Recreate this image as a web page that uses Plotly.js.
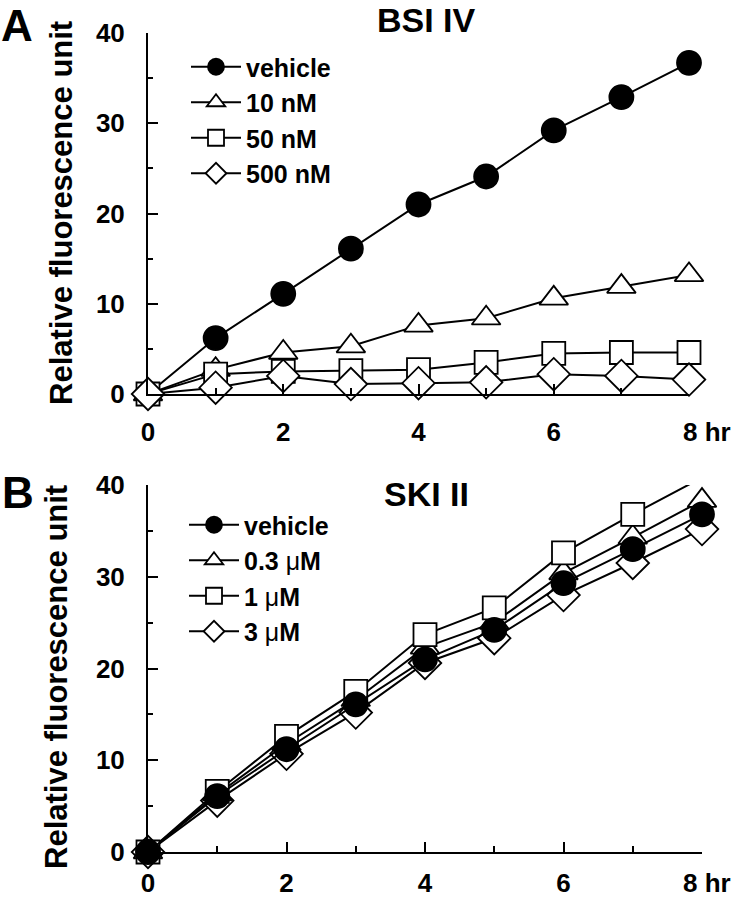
<!DOCTYPE html>
<html>
<head>
<meta charset="utf-8">
<script src="https://cdn.plot.ly/plotly-3.0.1.min.js"></script>
<style>
  html, body { margin: 0; padding: 0; background: #fff; }
  #chart { width: 741px; height: 900px; }
</style>
</head>
<body>
<div id="chart"></div>
<script>
// hours after treatment
var hours = [0, 1, 2, 3, 4, 5, 6, 7, 8];

// panel A: BSI IV
var bsiVehicle = [0, 6.2, 11.1, 16.1, 21.0, 24.1, 29.2, 32.9, 36.7];
var bsi10nM = [0, 2.7, 4.6, 5.3, 7.6, 8.4, 10.6, 11.9, 13.2];
var bsi50nM = [0, 2.2, 2.5, 2.6, 2.7, 3.5, 4.5, 4.6, 4.6];
var bsi500nM = [0, 0.7, 2.0, 1.1, 1.2, 1.3, 2.2, 2.0, 1.6];

// panel B: SKI II
var skiVehicle = [0, 6.1, 11.2, 16.1, 21.0, 24.2, 29.3, 33.0, 36.8];
var ski03uM = [0, 6.3, 11.8, 16.6, 22.3, 25.0, 30.4, 34.3, 38.3];
var ski1uM = [0, 6.6, 12.6, 17.5, 23.7, 26.6, 32.6, 36.8, 40.8];
var ski3uM = [0, 5.6, 10.7, 15.2, 20.6, 23.3, 28.0, 31.5, 35.2];

var xTickVals = [0, 2, 4, 6, 8];
var xTickText = ["0", "2", "4", "6", ""];
var yTickVals = [0, 10, 20, 30, 40];

var FONT = "Liberation Sans, Arial, Helvetica, sans-serif";
var mu = "<span style='font-weight:normal'>\u03bc</span>";

function series(y, name, symbol, size, fill, xa, ya, legend, rank) {
    return {
        x: hours,
        y: y,
        name: name,
        type: "scatter",
        mode: "lines+markers",
        xaxis: xa,
        yaxis: ya,
        legend: legend,
        legendrank: rank,
        cliponaxis: false,
        line: { color: "#000", width: 2 },
        marker: {
            symbol: symbol,
            size: size,
            color: fill,
            line: { color: "#000", width: 1.8 }
        }
    };
}

var data = [
    series(bsiVehicle, "vehicle", "circle", 24, "#000", "x", "y", "legend", 1),
    series(bsi10nM, "10 nM", "triangle-up", 25, "#fff", "x", "y", "legend", 2),
    series(bsi50nM, "50 nM", "square", 23, "#fff", "x", "y", "legend", 3),
    series(bsi500nM, "500 nM", "diamond", 25, "#fff", "x", "y", "legend", 4),

    series(ski3uM, "3 " + mu + "M", "diamond", 25, "#fff", "x2", "y2", "legend2", 4),
    series(ski03uM, "0.3 " + mu + "M", "triangle-up", 25, "#fff", "x2", "y2", "legend2", 2),
    series(ski1uM, "1 " + mu + "M", "square", 23, "#fff", "x2", "y2", "legend2", 3),
    series(skiVehicle, "vehicle", "circle", 24, "#000", "x2", "y2", "legend2", 1)
];

var tickFont = { family: FONT, size: 26, weight: "bold", color: "#000" };

function xAxis(domain, anchor, standoff) {
    return {
        domain: domain,
        anchor: anchor,
        range: [0, 8],
        tickvals: xTickVals,
        ticktext: xTickText,
        ticks: "inside",
        ticklen: 10,
        tickwidth: 2,
        tickcolor: "#000",
        ticklabelstandoff: standoff,
        minor: { dtick: 1, ticks: "inside", ticklen: 6, tickwidth: 2, tickcolor: "#000" },
        showline: true,
        linewidth: 2,
        linecolor: "#000",
        showgrid: false,
        zeroline: false,
        fixedrange: true,
        tickfont: tickFont
    };
}

function yAxis(domain, anchor) {
    return {
        domain: domain,
        anchor: anchor,
        range: [0, 40],
        tickvals: yTickVals,
        ticks: "inside",
        ticklen: 10,
        tickwidth: 2,
        tickcolor: "#000",
        ticklabelstandoff: 16,
        minor: { dtick: 5, ticks: "inside", ticklen: 5, tickwidth: 2, tickcolor: "#000" },
        showline: true,
        linewidth: 2,
        linecolor: "#000",
        showgrid: false,
        zeroline: false,
        fixedrange: true,
        tickfont: tickFont
    };
}

function px(v) { return v / 741; }
function py(v) { return 1 - v / 900; }

function text(t, x, y, size, opts) {
    var a = {
        text: t,
        x: x,
        y: y,
        xref: "paper",
        yref: "paper",
        showarrow: false,
        xanchor: "center",
        yanchor: "middle",
        font: { family: FONT, size: size, weight: "bold", color: "#000" }
    };
    for (var k in opts) a[k] = opts[k];
    return a;
}

var legendFont = { family: FONT, size: 25, weight: "bold", color: "#000" };

var layout = {
    width: 741,
    height: 900,
    margin: { l: 0, r: 0, t: 0, b: 0, autoexpand: false },
    paper_bgcolor: "#fff",
    plot_bgcolor: "rgba(0,0,0,0)",
    showlegend: true,
    xaxis: xAxis([px(148), px(689)], "y", 14),
    yaxis: yAxis([py(394), py(33)], "x"),
    xaxis2: xAxis([px(148), px(702)], "y2", 7),
    yaxis2: yAxis([py(852), py(485)], "x2"),
    legend: {
        x: px(186), y: py(44), xanchor: "left", yanchor: "top",
        font: legendFont, bgcolor: "rgba(0,0,0,0)", itemwidth: 50,
        traceorder: "normal"
    },
    legend2: {
        x: px(184), y: py(502), xanchor: "left", yanchor: "top",
        font: legendFont, bgcolor: "rgba(0,0,0,0)", itemwidth: 50,
        traceorder: "normal"
    },
    annotations: [
        text("A", px(0), 1, 44, { xanchor: "left", yanchor: "top", borderpad: 0 }),
        text("B", px(0), py(492.5), 44, { xanchor: "left" }),
        text("BSI IV", px(426), 1, 34, { yanchor: "top", borderpad: 0 }),
        text("SKI II", px(426), py(494), 34),
        text("Relative fluorescence unit", px(61), py(213), 31, { textangle: -90 }),
        text("Relative fluorescence unit", px(56), py(677), 31, { textangle: -90 }),
        text("8 hr", px(681), py(432), 26, { xanchor: "left" }),
        text("8 hr", px(681), py(883), 26, { xanchor: "left" })
    ]
};

Plotly.newPlot("chart", data, layout, { displayModeBar: false, staticPlot: true });
</script>
</body>
</html>
